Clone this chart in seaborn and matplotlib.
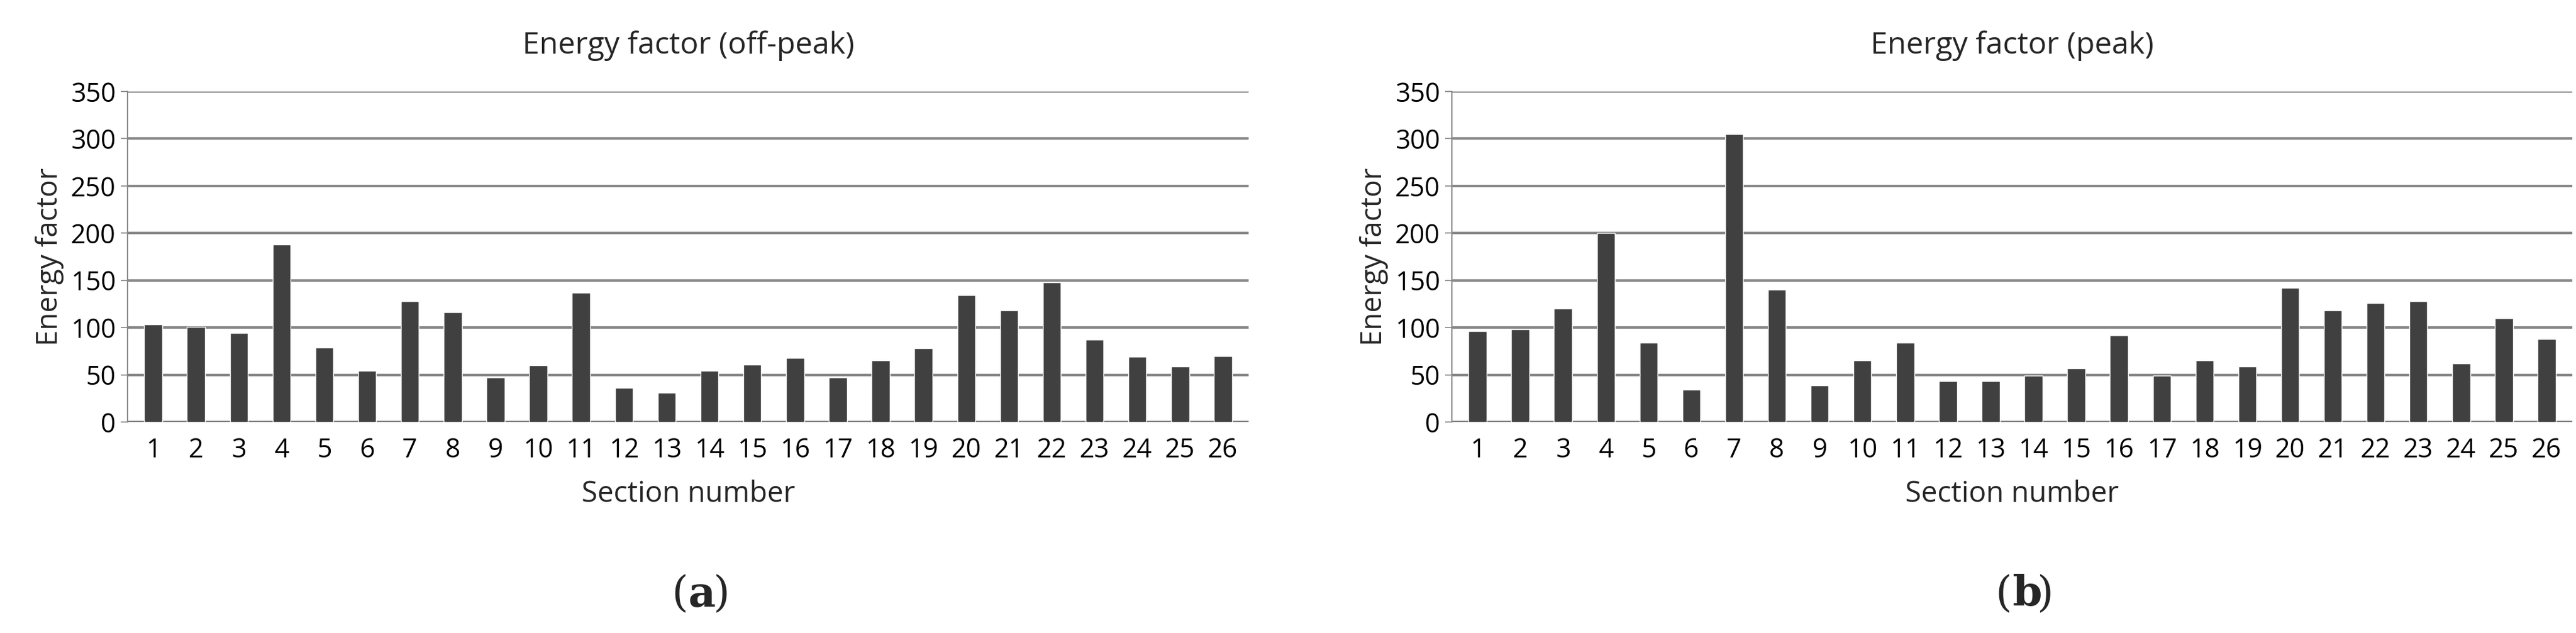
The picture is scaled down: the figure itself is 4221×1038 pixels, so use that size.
import matplotlib
matplotlib.use("Agg")
import matplotlib.pyplot as plt
import seaborn as sns
import pandas as pd

sections = [str(i) for i in range(1, 27)]
offpeak = [103, 101, 94, 188, 79, 54, 128, 116, 47, 60, 137, 36, 31, 54, 61, 68, 47, 65, 78, 134, 118, 148, 87, 69, 59, 70]
peak = [96, 98, 120, 200, 84, 34, 305, 140, 39, 65, 84, 43, 43, 49, 57, 92, 49, 65, 59, 142, 118, 126, 128, 62, 110, 88]
titles = ["Energy factor (off-peak)", "Energy factor (peak)"]
labels = ["a", "b"]
yticks = [0, 50, 100, 150, 200, 250, 300, 350]

sns.set_theme(style="white")
plt.rcParams['font.family'] = ['Open Sans', 'DejaVu Sans']

fig = plt.figure(figsize=(42.21, 10.38), dpi=100)
W, H = 4221, 1038
boxes = [(209, 150, 2046, 692), (2379, 150, 4215, 692)]
for (x0, y0, x1, y1), vals, title, lab in zip(boxes, [offpeak, peak], titles, labels):
    ax = fig.add_axes([x0 / W, 1 - y1 / H, (x1 - x0) / W, (y1 - y0) / H])
    df = pd.DataFrame({"Section": sections, "Value": vals})
    sns.barplot(data=df, x="Section", y="Value", color="#404040", width=0.42,
                saturation=1, ax=ax, zorder=3)
    ax.set_ylim(0, 350)
    ax.set_xlim(-0.6, 25.6)
    ax.set_yticks(yticks)
    ax.yaxis.grid(True, color="#888888", linewidth=3, zorder=0)
    ax.set_axisbelow(True)
    for s in ["top", "right", "bottom"]:
        ax.spines[s].set_visible(False)
    ax.spines["left"].set_color("#888888")
    ax.spines["left"].set_linewidth(1.5)
    ax.tick_params(axis="both", labelsize=31, length=0, pad=18, colors="black")
    ax.tick_params(axis="y", pad=6, length=8, color="#888888", left=True, direction="out")
    ax.set_xlabel("Section number", fontsize=34, labelpad=18)
    ax.set_ylabel("Energy factor", fontsize=34, labelpad=8)
    ax.set_title(title, fontsize=36, pad=45)
    cx = (x0 + x1) / 2 / W
    fig.text(cx, 1 - 975 / H, "(", fontsize=50, family="DejaVu Serif", ha="right", va="center")
    fig.text(cx, 1 - 975 / H, lab, fontsize=50, family="DejaVu Serif", weight="bold", ha="left", va="center")
    fig.text(cx + 0.0095, 1 - 975 / H, ")", fontsize=50, family="DejaVu Serif", ha="left", va="center")

fig.savefig("out.png", dpi=100)
